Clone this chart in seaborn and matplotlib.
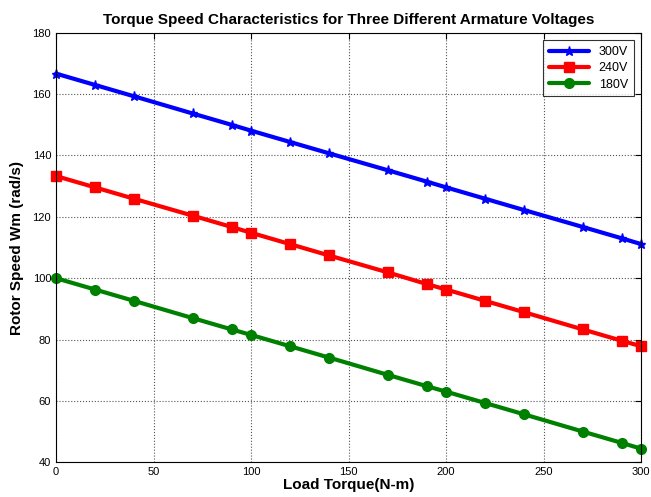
import numpy as np
import pandas as pd
import matplotlib
matplotlib.use("Agg")
import matplotlib.pyplot as plt
import seaborn as sns

# load torque (N-m)
torque = [0, 20, 40, 70, 90, 100, 120, 140, 170, 190, 200, 220, 240, 270, 290, 300]
# rotor speed (rad/s) for each armature voltage
speed_300 = [166.7, 163.0, 159.3, 153.7, 150.0, 148.1, 144.4, 140.7,
             135.2, 131.5, 129.6, 125.9, 122.2, 116.7, 113.0, 111.1]
speed_240 = [133.3, 129.6, 125.9, 120.4, 116.7, 114.8, 111.1, 107.4,
             101.9, 98.1, 96.3, 92.6, 88.9, 83.3, 79.6, 77.8]
speed_180 = [100.0, 96.3, 92.6, 87.0, 83.3, 81.5, 77.8, 74.1,
             68.5, 64.8, 63.0, 59.3, 55.6, 50.0, 46.3, 44.4]
voltages = ['300V', '240V', '180V']
colors = ['#0000ff', '#ff0000', '#008000']
markers = ['*', 's', 'o']
msizes = [6.5, 7, 7]

sns.set_style("white")
plt.rcParams['font.family'] = ['Liberation Sans', 'DejaVu Sans']
plt.rcParams['text.color'] = 'black'
plt.rcParams['axes.labelcolor'] = 'black'
plt.rcParams['xtick.color'] = 'black'
plt.rcParams['ytick.color'] = 'black'

fig = plt.figure(figsize=(6.51, 4.97), dpi=100)
ax = fig.add_axes([0.086, 0.070, 0.899, 0.864])

for s, v, c, m, ms in zip([speed_300, speed_240, speed_180], voltages, colors, markers, msizes):
    sns.lineplot(x=torque, y=s, color=c, marker=m, markersize=ms,
                 markeredgecolor=c, markerfacecolor=c, markeredgewidth=1,
                 linestyle='-', linewidth=3, label=v, ax=ax, clip_on=False)

ax.set_xlim(0, 300)
ax.set_ylim(40, 180)
ax.set_xticks(range(0, 301, 50))
ax.set_yticks(range(40, 181, 20))
ax.grid(True, linestyle=':', color='#555555', linewidth=0.8)
ax.tick_params(direction='in', top=True, right=True, labelsize=8, length=4, color='black')
for sp in ax.spines.values():
    sp.set_color('black')
    sp.set_linewidth(0.8)

ax.set_title('Torque Speed Characteristics for Three Different Armature Voltages',
             fontsize=11, fontweight='bold', pad=6)
ax.set_xlabel('Load Torque(N-m)', fontsize=11, fontweight='bold', labelpad=1)
ax.set_ylabel('Rotor Speed Wm (rad/s)', fontsize=11, fontweight='bold', labelpad=6)

leg = ax.legend(loc='upper right', fontsize=9, frameon=True, fancybox=False,
                edgecolor='black', handlelength=3.2, borderpad=0.45, labelspacing=0.35,
                borderaxespad=0.6)
leg.get_frame().set_linewidth(0.8)

fig.savefig('out.png', dpi=100)
